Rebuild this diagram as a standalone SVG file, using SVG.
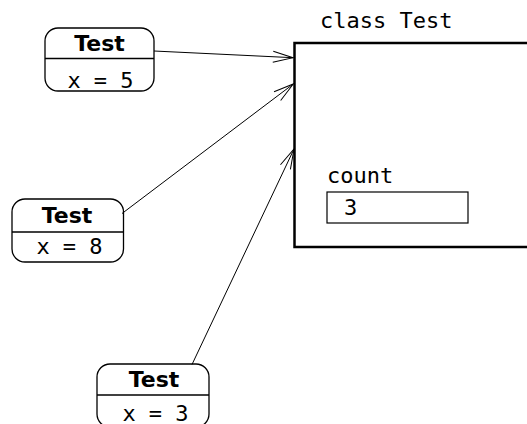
<svg xmlns="http://www.w3.org/2000/svg" width="527" height="424" viewBox="0 0 527 424">
<defs>
<style>
.bg{fill:#fff}
.node rect{fill:#fff;stroke:#000;stroke-width:1.3}
.node line{stroke:#000;stroke-width:1.3}
.bold{font-family:"DejaVu Sans",sans-serif;font-weight:bold;font-size:22px;fill:#000;text-anchor:middle}
.mono{font-family:"DejaVu Sans Mono",monospace;font-size:22px;fill:#000}
.mid{text-anchor:middle}
.conn line{stroke:#000;stroke-width:1;fill:none}
</style>
<marker id="arr" markerUnits="userSpaceOnUse" viewBox="-22 -8 24 16" markerWidth="24" markerHeight="16" refX="0" refY="0" orient="auto">
<path d="M-20,-5.5 L0,0 L-20,5.5" fill="none" stroke="#000" stroke-width="1"/>
</marker>
</defs>
<rect class="bg" x="0" y="0" width="527" height="424"/>
<g id="classTest">
<text class="mono" x="320" y="27.5">class Test</text>
<rect x="294.5" y="43" width="260" height="204" fill="#fff" stroke="#000" stroke-width="2.5"/>
<text class="mono" x="327" y="183">count</text>
<rect x="327" y="192" width="141" height="31" fill="#fff" stroke="#000" stroke-width="1.2"/>
<text class="mono" x="344" y="215">3</text>
</g>
<g id="node1" class="node">
<rect x="45" y="28" width="109" height="63" rx="13"/>
<line x1="45" y1="58.5" x2="154" y2="58.5"/>
<text class="bold" x="99.5" y="51">Test</text>
<text class="mono mid" x="100.5" y="88">x = 5</text>
</g>
<g id="node2" class="node">
<rect x="12" y="199" width="111.5" height="63" rx="13"/>
<line x1="12" y1="232" x2="123.5" y2="232"/>
<text class="bold" x="67" y="223">Test</text>
<text class="mono mid" x="69.5" y="254">x = 8</text>
</g>
<g id="node3" class="node">
<rect x="97" y="364" width="112" height="63" rx="13"/>
<line x1="97" y1="395" x2="209" y2="395"/>
<text class="bold" x="154" y="387">Test</text>
<text class="mono mid" x="155.5" y="420.5">x = 3</text>
</g>
<g id="connectors" class="conn">
<line x1="154" y1="51" x2="293" y2="57.7" marker-end="url(#arr)"/>
<line x1="122" y1="213.5" x2="293.3" y2="84" marker-end="url(#arr)"/>
<line x1="192" y1="364.5" x2="294" y2="149" marker-end="url(#arr)"/>
</g>
</svg>
